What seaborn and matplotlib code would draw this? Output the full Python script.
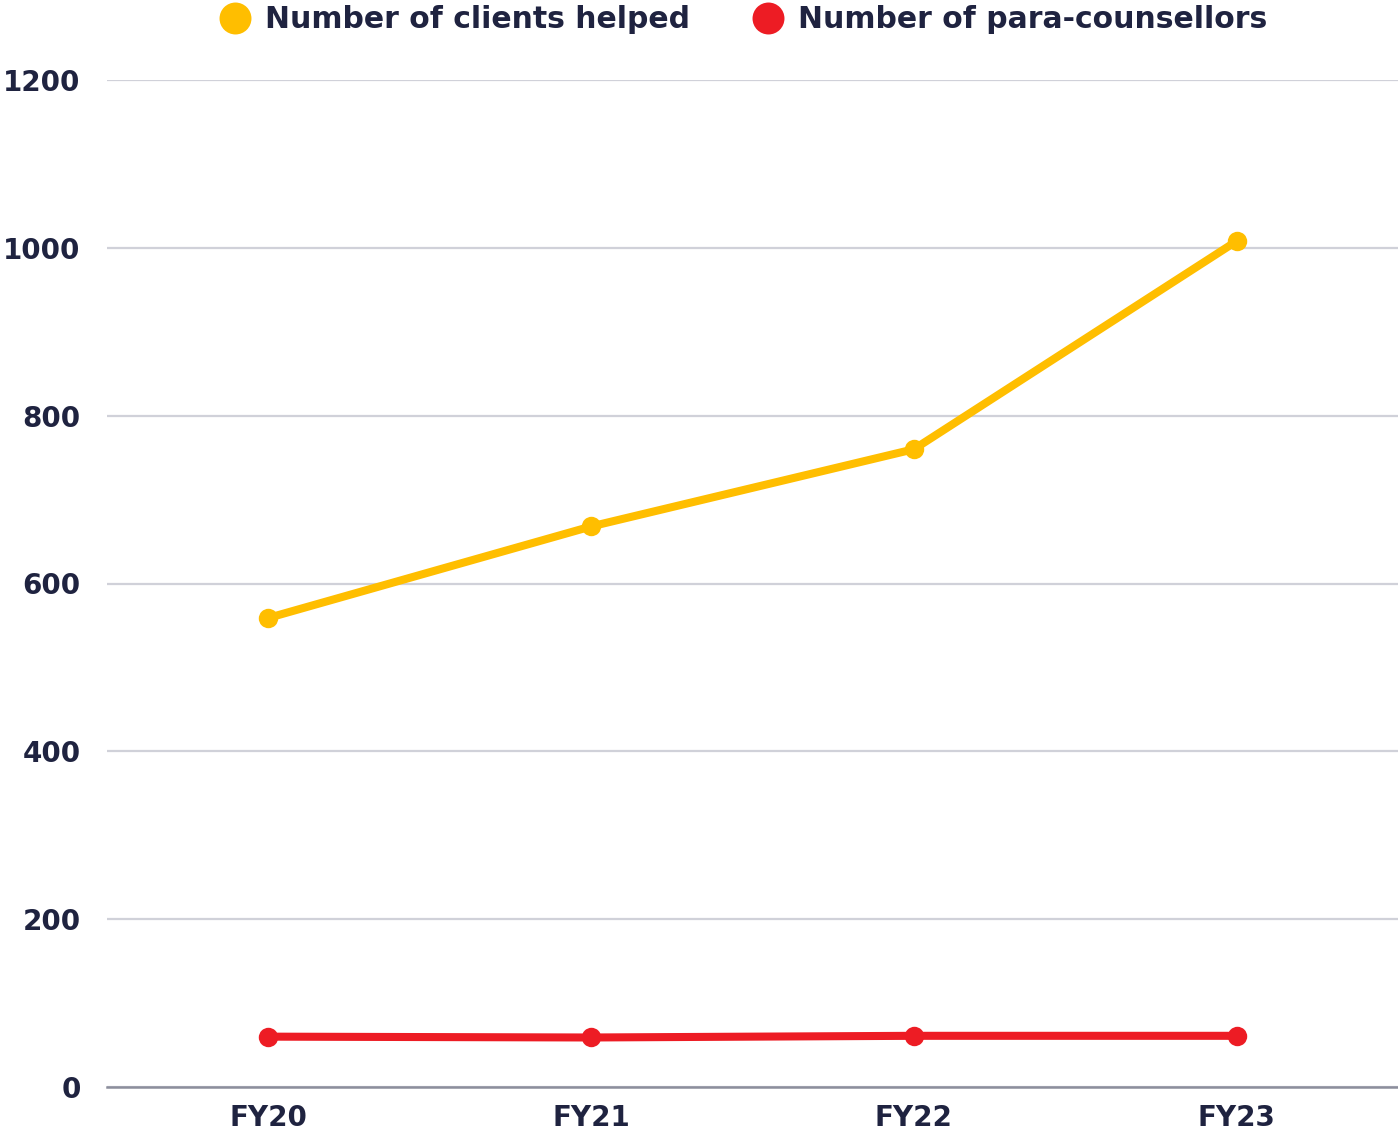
import matplotlib
matplotlib.use("Agg")
import matplotlib.pyplot as plt
from matplotlib.lines import Line2D
import seaborn as sns
import pandas as pd

# Data
years = ["FY20", "FY21", "FY22", "FY23"]
clients_helped = [559, 668, 760, 1008]
para_counsellors = [60, 59, 61, 61]
series_names = ["Number of clients helped", "Number of para-counsellors"]
series_colors = ["#FFBE00", "#ED1C24"]
y_ticks = [0, 200, 400, 600, 800, 1000, 1200]

df = pd.DataFrame({
    "year": years * 2,
    "value": clients_helped + para_counsellors,
    "series": [series_names[0]] * len(years) + [series_names[1]] * len(years),
})
df["pos"] = df["year"].map({y: i for i, y in enumerate(years)})

sns.set_theme(style="white")
plt.rcParams["font.family"] = ["DejaVu Sans"]
text_color = "#1F2340"
tick_size = 20
legend_size = 21.5

fig = plt.figure(figsize=(13.98, 11.37), dpi=100)
ax = fig.add_axes([107 / 1398, 1 - 1087 / 1137, 1 - 107 / 1398, (1087 - 80) / 1137])

sns.lineplot(
    data=df, x="pos", y="value", hue="series", hue_order=series_names,
    palette=series_colors, linewidth=5.8, marker="o", markersize=14,
    markeredgewidth=0, legend=False, ax=ax, zorder=3,
)

ax.set_xlim(-0.5, 3.5)
ax.set_ylim(0, 1200)
ax.set_xticks(range(len(years)))
ax.set_xticklabels(years)
ax.set_yticks(y_ticks)
ax.set_yticklabels([str(t) for t in y_ticks])
ax.set_xlabel("")
ax.set_ylabel("")

ax.yaxis.grid(True, color="#D0D1D9", linewidth=1.6)
ax.xaxis.grid(False)
ax.set_axisbelow(True)
for side in ["top", "right", "left"]:
    ax.spines[side].set_visible(False)
ax.spines["bottom"].set_color("#8C8E9C")
ax.spines["bottom"].set_linewidth(1.8)
ax.spines["bottom"].set_zorder(2)

ax.tick_params(axis="both", length=0, labelsize=tick_size, labelcolor=text_color)
ax.tick_params(axis="y", pad=19)
ax.tick_params(axis="x", pad=12)
for lbl in ax.get_xticklabels() + ax.get_yticklabels():
    lbl.set_fontweight("bold")

handles = [
    Line2D([], [], linestyle="none", marker="o", markersize=23,
           markerfacecolor=c, markeredgewidth=0)
    for c in series_colors
]
leg = fig.legend(
    handles, series_names, loc="center", bbox_to_anchor=(0.532, 1 - 20 / 1137),
    ncol=2, frameon=False, handletextpad=0.5, columnspacing=2.1,
    prop={"size": legend_size, "weight": "bold"}, handlelength=1.0,
)
for t in leg.get_texts():
    t.set_color(text_color)

fig.savefig("out.png", dpi=100, facecolor="white")
